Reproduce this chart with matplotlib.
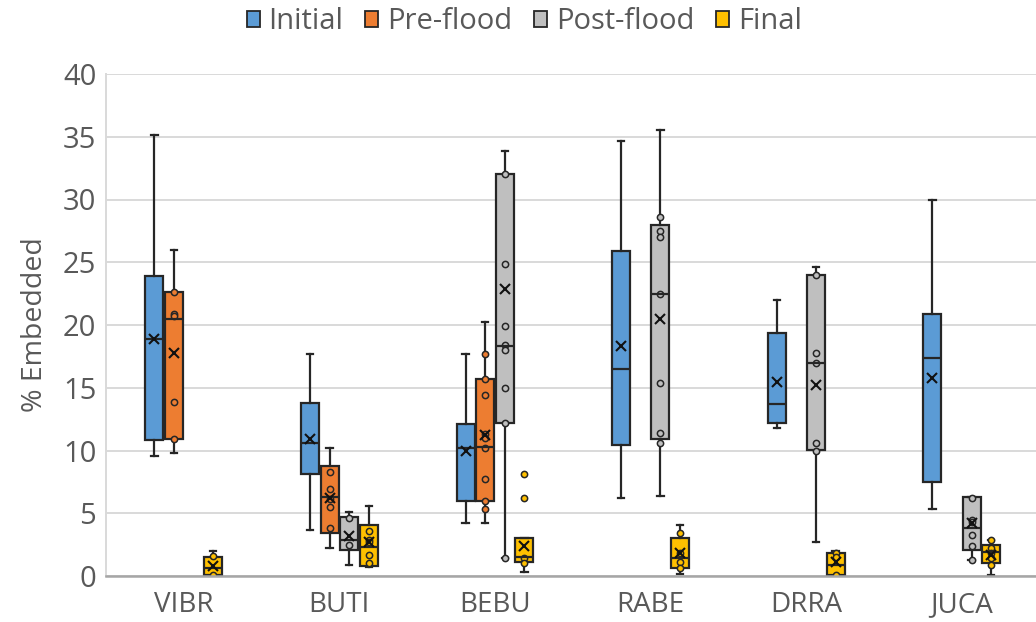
import matplotlib
matplotlib.use("Agg")
import matplotlib.pyplot as plt
from matplotlib.patches import Patch

# ---- data -------------------------------------------------------------
categories = ["VIBR", "BUTI", "BEBU", "RABE", "DRRA", "JUCA"]
series = ["Initial", "Pre-flood", "Post-flood", "Final"]
colors = ["#5B9BD5", "#ED7D31", "#BFBFBF", "#FFC000"]

# per category: (whisker low, Q1, median, Q3, whisker high, mean); None = not sampled
initial_stats = [
    (9.6, 10.8, 18.9, 23.9, 35.1, 18.9),
    (3.7, 8.1, 10.6, 13.8, 17.7, 10.9),
    (4.2, 6.0, 10.2, 12.1, 17.7, 10.0),
    (6.2, 10.4, 16.5, 25.9, 34.7, 18.3),
    (11.8, 12.2, 13.7, 19.4, 22.0, 15.45),
    (5.3, 7.5, 17.4, 20.9, 30.0, 15.75),
]
preflood_stats = [
    (9.8, 10.9, 20.5, 22.65, 26.0, 17.8),
    (2.2, 3.4, 6.3, 8.8, 10.2, 6.2),
    (4.2, 6.0, 10.3, 15.7, 20.2, 11.2),
    None,
    None,
    None,
]
postflood_stats = [
    None,
    (0.9, 2.1, 2.9, 4.7, 5.1, 3.2),
    (1.4, 12.2, 18.3, 32.0, 33.9, 22.9),
    (6.4, 10.95, 22.5, 28.0, 35.5, 20.5),
    (2.7, 10.05, 17.0, 24.0, 24.6, 15.2),
    (1.3, 2.1, 3.85, 6.3, 6.3, 4.2),
]
final_stats = [
    (0.0, 0.05, 0.6, 1.5, 2.0, 0.8),
    (0.7, 0.8, 2.3, 4.1, 5.6, 2.7),
    (0.35, 1.1, 1.5, 3.0, 3.0, 2.4),
    (0.15, 0.6, 1.4, 3.0, 4.1, 1.85),
    (0.0, 0.05, 0.9, 1.8, 2.0, 1.1),
    (0.1, 1.0, 1.9, 2.5, 2.9, 1.65),
]

# individual observations drawn over the boxes (inner points and outliers)
initial_pts = [[], [], [], [], [], []]
preflood_pts = [
    [22.65, 20.9, 20.7, 13.9, 10.9],
    [8.3, 6.9, 6.1, 5.5, 3.8],
    [17.7, 15.7, 14.4, 11.3, 10.96, 10.2, 7.7, 6.0, 5.3],
    [], [], [],
]
postflood_pts = [
    [],
    [4.6, 2.5],
    [32.0, 24.9, 19.9, 18.4, 18.0, 15.0, 12.2, 1.4],
    [28.6, 27.5, 27.0, 22.5, 15.4, 11.4, 10.6],
    [24.0, 17.8, 17.0, 10.6, 10.0],
    [6.2, 4.5, 4.3, 3.3, 2.4, 1.3],
]
final_pts = [
    [1.6, 0.05],
    [3.6, 2.9, 2.7, 1.7, 1.0],
    [8.1, 6.2, 1.4, 1.0],
    [3.45, 1.8, 1.1, 0.65],
    [1.8, 1.5, 0.05],
    [2.9, 2.2, 1.8, 1.4, 0.9],
]

all_stats = [initial_stats, preflood_stats, postflood_stats, final_stats]
all_pts = [initial_pts, preflood_pts, postflood_pts, final_pts]

# ---- figure -----------------------------------------------------------
plt.rcParams["font.family"] = ["Open Sans", "DejaVu Sans"]
text_color = "#595959"
edge = "#262626"

W, H = 1036, 622
fig = plt.figure(figsize=(W / 100, H / 100), dpi=100)
ax = fig.add_axes([106 / W, 46 / H, 930 / W, 502 / H])

slot = 0.126
box_w = 0.116

for si, (stats, pts) in enumerate(zip(all_stats, all_pts)):
    offset = (si - 1.5) * slot
    boxes, positions = [], []
    for ci, st in enumerate(stats):
        if st is None:
            continue
        lo, q1, med, q3, hi, mean = st
        boxes.append(dict(whislo=lo, q1=q1, med=med, q3=q3, whishi=hi,
                          mean=mean, fliers=pts[ci], label=categories[ci]))
        positions.append(ci + offset)
    ax.bxp(
        boxes, positions=positions, widths=box_w, capwidths=0.04,
        patch_artist=True, showmeans=True, showfliers=True, manage_ticks=False,
        boxprops=dict(facecolor=colors[si], edgecolor=edge, linewidth=1.6),
        medianprops=dict(color=edge, linewidth=1.6),
        whiskerprops=dict(color=edge, linewidth=1.6),
        capprops=dict(color=edge, linewidth=1.6),
        meanprops=dict(marker="x", markeredgecolor="#111111", markersize=7,
                       markeredgewidth=1.5),
        flierprops=dict(marker="o", markerfacecolor=colors[si],
                        markeredgecolor=edge, markersize=4.5,
                        markeredgewidth=1.1),
    )

ax.set_xlim(-0.5, -0.5 + 930 / 155.6)
ax.set_ylim(0, 40)
ax.set_yticks(range(0, 41, 5))
ax.set_xticks(range(len(categories)))
ax.set_xticklabels(categories)
ax.tick_params(axis="both", length=0, labelcolor=text_color)
ax.tick_params(axis="y", pad=7, labelsize=21)
ax.tick_params(axis="x", pad=11, labelsize=20)
ax.yaxis.grid(True, color="#D9D9D9", linewidth=1.4)
ax.set_axisbelow(True)
for side in ("top", "right"):
    ax.spines[side].set_visible(False)
ax.spines["left"].set_color("#D9D9D9")
ax.spines["left"].set_linewidth(1.4)
ax.spines["bottom"].set_color("#A6A6A6")
ax.spines["bottom"].set_linewidth(1.8)
ax.set_ylabel("% Embedded", fontsize=20.5, color=text_color, labelpad=10)

handles = [Patch(facecolor=c, edgecolor=edge, linewidth=1.3, label=s)
           for c, s in zip(colors, series)]
fig.legend(handles=handles, loc="center", bbox_to_anchor=(0.506, 0.965),
           ncol=4, frameon=False, fontsize=21, labelcolor=text_color,
           handlelength=0.45, handleheight=0.45, handletextpad=0.3,
           columnspacing=0.75)

fig.savefig("out.png", dpi=100)
